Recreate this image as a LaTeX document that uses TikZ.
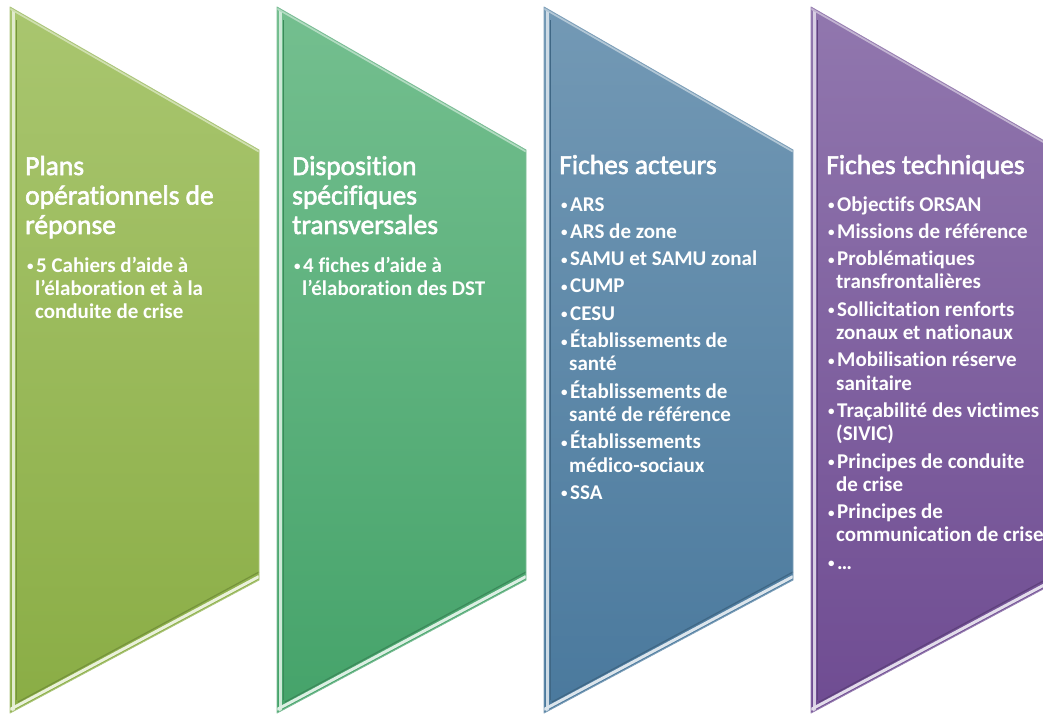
\documentclass[tikz,border=0pt]{standalone}
\usepackage{fontspec}
\setmainfont{Carlito}[Ligatures=NoCommon, RawFeature={-liga;-clig;-dlig}]
\newfontfamily\titlefont{Carlito}[Ligatures=NoCommon, RawFeature={-liga;-clig;-dlig}, FakeBold=2.2]
\definecolor{gAtop}{HTML}{A9C66F}
\definecolor{gAbot}{HTML}{8AAD45}
\definecolor{gBtop}{HTML}{74BF8F}
\definecolor{gBbot}{HTML}{45A36A}
\definecolor{bCtop}{HTML}{7399B5}
\definecolor{bCbot}{HTML}{4A799D}
\definecolor{pDtop}{HTML}{9177AE}
\definecolor{pDbot}{HTML}{6F4C92}
\newcommand\hind{\hspace*{9pt}}
\newcommand\bul{\makebox[10pt][l]{\hspace*{1pt}\raisebox{1.5pt}{\fontsize{13}{13}\selectfont •}}}
\newcommand\chevshape[3]{%
  \begin{scope}
    \shade[top color=#2, bottom color=#3]
      (#1,7) -- (#1+249,150) -- (#1+249,580) -- (#1,713) -- cycle;
    \clip (#1,7) -- (#1+249,150) -- (#1+249,580) -- (#1,713) -- cycle;
    \draw[line width=3.5pt, #2!35!white] (#1+3.5,7) -- (#1+3.5,713);
    \draw[line width=1.2pt, #3!85!black] (#1+6.5,20) -- (#1+6.5,700);
    \draw[line width=3pt, #2!25!white] (#1,709.5) -- (#1+249,576.5);
    \draw[line width=1.2pt, #3!85!black] (#1+8,702) -- (#1+249,572);
    \draw[line width=2pt, #2!55!white] (#1,8.5) -- (#1+249,151.5);
  \end{scope}
  \draw[line width=0.9pt, #3!70!white, line join=round]
    (#1,7) -- (#1+249,150) -- (#1+249,580) -- (#1,713) -- cycle;
}
\tikzset{
  titletext/.style={anchor=base west, inner sep=0pt, text=white,
    font=\titlefont\fontsize{27.5}{29.5}\selectfont},
  itemtext/.style={anchor=base west, inner sep=0pt, text=white,
    font=\bfseries\fontsize{21}{23.3}\selectfont}
}
\begin{document}
\begin{tikzpicture}[x=1pt, y=-1pt]
\useasboundingbox (0,0) rectangle (1043,715);
\clip (0,0) rectangle (1043,715);
\fill[white] (0,0) rectangle (1043,715);

\chevshape{10}{gAtop}{gAbot}
\chevshape{277}{gBtop}{gBbot}
\chevshape{544}{bCtop}{bCbot}
\chevshape{811}{pDtop}{pDbot}

% column 1
\node[titletext] (t1) at (25,175) {\parbox[t]{300pt}{\raggedright
  Plans\\opérationnels de\\réponse}};
\node[itemtext] (l1) at (26,272) {\parbox[t]{300pt}{\raggedright
  \bul 5 Cahiers d’aide à\\
  \hind l’élaboration et à la\\
  \hind conduite de crise}};

% column 2
\node[titletext] (t2) at (292,175) {\parbox[t]{300pt}{\raggedright
  Disposition\\spécifiques\\transversales}};
\node[itemtext] (l2) at (293,272) {\parbox[t]{300pt}{\raggedright
  \bul 4 fiches d’aide à\\
  \hind l’élaboration des DST}};

% column 3
\node[titletext] (t3) at (559,174) {\parbox[t]{300pt}{\raggedright
  Fiches acteurs}};
\node[itemtext] (l3) at (560,211) {\parbox[t]{300pt}{\raggedright
  \bul ARS\\[4pt]
  \bul ARS de zone\\[4pt]
  \bul SAMU et SAMU zonal\\[4pt]
  \bul CUMP\\[4pt]
  \bul CESU\\[4pt]
  \bul Établissements de\\
  \hind santé\\[4pt]
  \bul Établissements de\\
  \hind santé de référence\\[4pt]
  \bul Établissements\\
  \hind médico-sociaux\\[4pt]
  \bul SSA}};

% column 4
\node[titletext] (t4) at (826,174) {\parbox[t]{300pt}{\raggedright
  Fiches techniques}};
\node[itemtext] (l4) at (827,211) {\parbox[t]{300pt}{\raggedright
  \bul Objectifs ORSAN\\[4pt]
  \bul Missions de référence\\[4pt]
  \bul Problématiques\\
  \hind transfrontalières\\[4pt]
  \bul Sollicitation renforts\\
  \hind zonaux et nationaux\\[4pt]
  \bul Mobilisation réserve\\
  \hind sanitaire\\[4pt]
  \bul Traçabilité des victimes\\
  \hind (SIVIC)\\[4pt]
  \bul Principes de conduite\\
  \hind de crise\\[4pt]
  \bul Principes de\\
  \hind communication de crise\\[4pt]
  \bul …}};
\end{tikzpicture}
\end{document}
